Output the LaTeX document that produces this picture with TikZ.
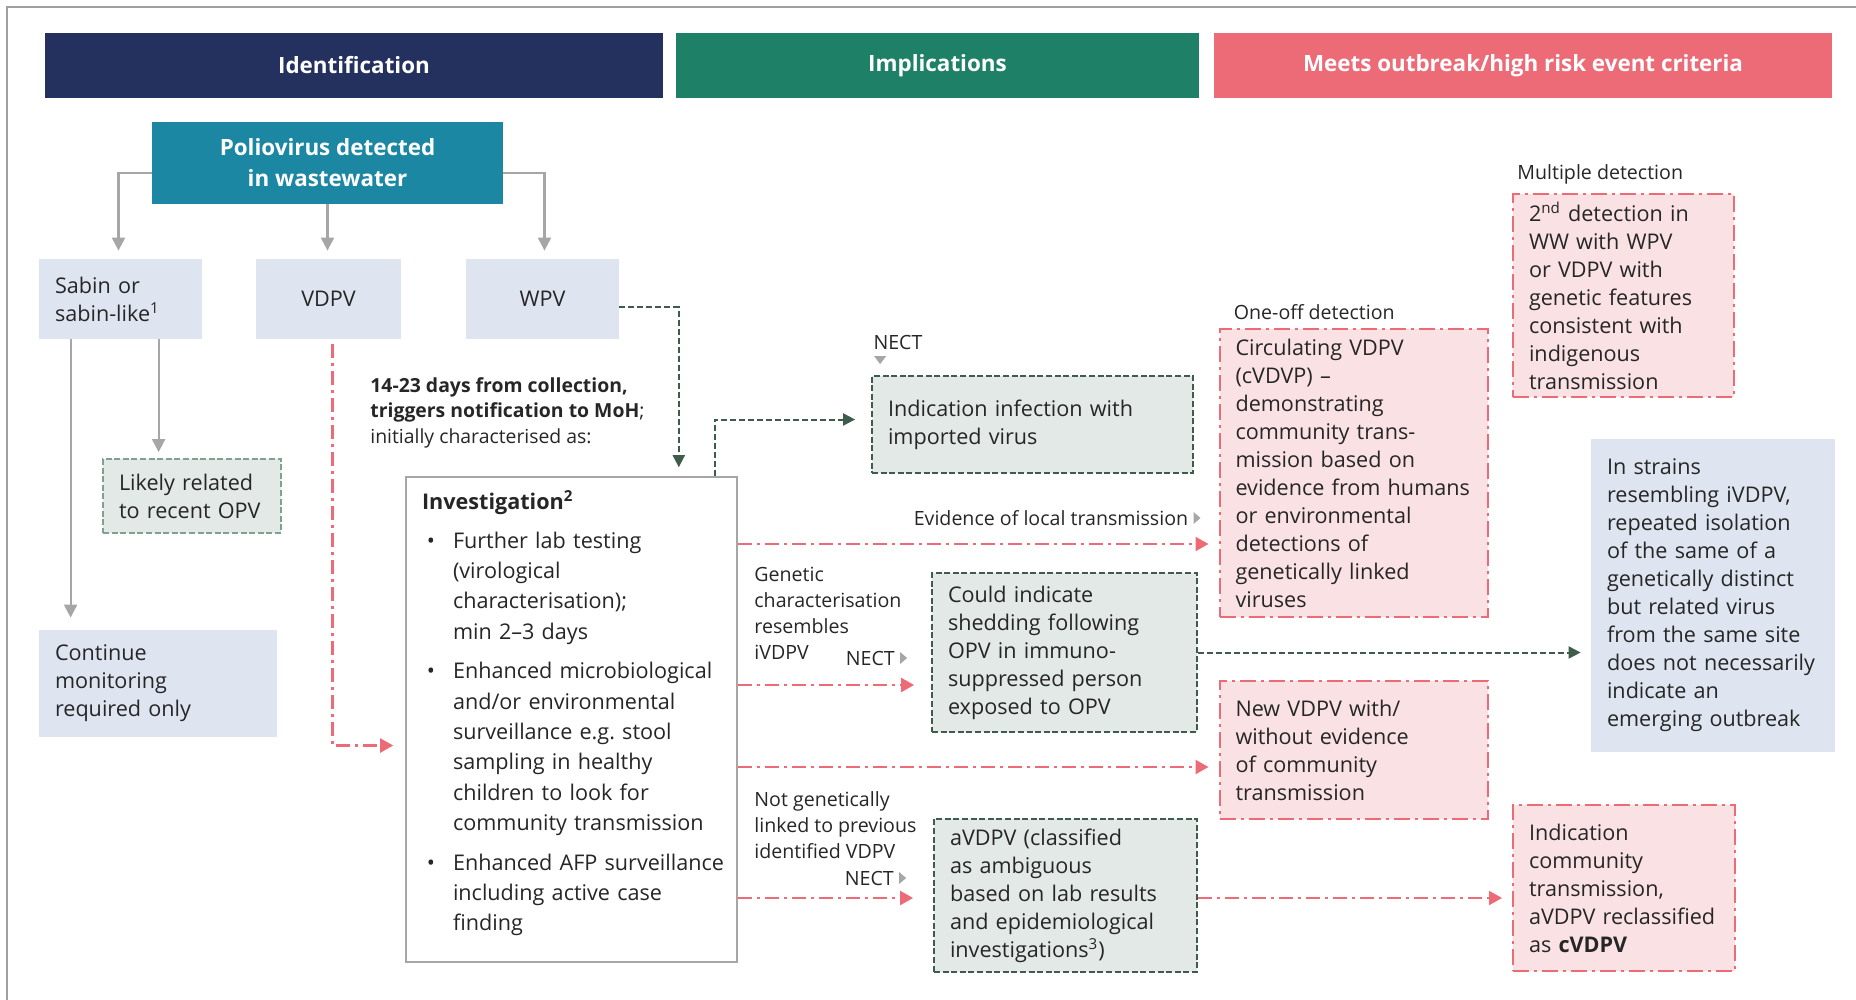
\documentclass[tikz,border=0pt]{standalone}
\usepackage{fontspec}
\setmainfont{Open Sans}
\usepackage{tikz}
\usetikzlibrary{positioning}
\usetikzlibrary{arrows.meta}

\definecolor{navyhead}{HTML}{24305E}
\definecolor{greenhead}{HTML}{1E8067}
\definecolor{salmon}{HTML}{EC6B77}
\definecolor{poliocol}{HTML}{1B87A3}
\definecolor{bluefill}{HTML}{DFE5F0}
\definecolor{sagefill}{HTML}{E3E9E6}
\definecolor{pinkfill}{HTML}{FAE1E4}
\definecolor{darkgreen}{HTML}{3E5B4C}
\definecolor{lightgreen}{HTML}{7FA28D}
\definecolor{arrowgray}{HTML}{A6A6A6}
\definecolor{framegray}{HTML}{A0A0A0}
\definecolor{ink}{HTML}{262626}

\newcommand{\bodyfont}{\fontsize{10.8}{14}\selectfont}
\newcommand{\lblfont}{\fontsize{9.8}{13}\selectfont}
\newcommand{\bul}[1]{{\leftskip=18pt\leavevmode\llap{\textbullet\hspace{9pt}}#1\par}}

\begin{document}
\begin{tikzpicture}[x=0.5pt,y=-0.5pt,
	every node/.style={text=ink},
	header/.style={fill=#1, text=white, font=\fontsize{11.2}{14}\selectfont\bfseries, minimum width=309pt, minimum height=32.5pt, inner sep=0pt},
	plainbox/.style={fill=bluefill, font=\bodyfont, align=left, inner xsep=8pt, inner ysep=3pt},
	sagebox/.style={fill=sagefill, draw=darkgreen, line width=0.9pt, dash pattern=on 3pt off 1.3pt, font=\bodyfont, align=left, inner xsep=8pt, inner ysep=3pt},
	pinkbox/.style={fill=pinkfill, draw=salmon, line width=1pt, dash pattern=on 8pt off 2.5pt on 1.5pt off 2.5pt, font=\bodyfont, align=left, inner xsep=8pt, inner ysep=3pt},
	lbl/.style={font=\lblfont, align=left, inner sep=0pt},
	grayarrow/.style={draw=arrowgray, line width=1.1pt, -{Triangle[width=6.5pt,length=6.5pt]}},
	redarrow/.style={draw=salmon, line width=1.1pt, dash pattern=on 7pt off 2.5pt on 1.5pt off 2.5pt, -{Triangle[width=7pt,length=6.5pt]}},
	greenarrow/.style={draw=darkgreen, line width=1pt, dash pattern=on 3pt off 1.5pt, -{Triangle[width=6pt,length=6pt]}}]
	\useasboundingbox (0,0) rectangle (1856,1000);
	\draw[framegray, line width=0.6pt] (1856,7) -- (7,7) -- (7,1000);

	%% column heads
	\node[header=navyhead] (ident) at (354,65.5) {Identification};
	\node[header=greenhead, minimum width=261.5pt] (impl) at (937.5,65.5) {Implications};
	\node[header=salmon] (meets) at (1523,65.5) {Meets outbreak/high risk event criteria};

	%% identification
	\node[fill=poliocol, text=white, font=\fontsize{11.2}{15.4}\selectfont\bfseries, align=center, minimum width=175.5pt, minimum height=41pt] (polio) at (327.5,163) {Poliovirus detected\\in wastewater};
	\node[plainbox, text width=65.5pt, minimum height=40pt] (sabin) at (120.5,299) {Sabin or\\sabin-like\textsuperscript{1}};
	\node[plainbox, align=center, minimum width=72.5pt, minimum height=40pt] (vdpv) at (328.5,299) {VDPV};
	\node[plainbox, align=center, minimum width=76.5pt, minimum height=40pt] (wpv) at (542.5,299) {WPV};
	\node[sagebox, draw=lightgreen, text width=73pt, minimum height=37pt] (likely) at (192,496) {Likely related\\to recent OPV};
	\node[plainbox, text width=103pt, minimum height=53.5pt] (cont) at (158,683.5) {Continue\\monitoring\\required only};
	\node[lbl, font=\fontsize{9.7}{12.75}\selectfont, anchor=north west] (timing) at (370,377) {\textbf{14-23 days from collection,}\\\textbf{triggers notification to MoH};\\initially characterised as:};
	\node[draw=arrowgray, line width=0.8pt, fill=white, font=\fontsize{10.8}{15.2}\selectfont, align=left, text width=154.5pt, inner xsep=5.5pt, minimum height=242.5pt] (invest) at (571.5,719.5) {\hspace*{2.5pt}\textbf{Investigation\textsuperscript{2}}\par\vspace{4pt}
		\bul{Further lab testing\\(virological\\characterisation);\\min 2--3 days}\vspace{4.5pt}
		\bul{Enhanced microbiological\\and/or environmental\\surveillance e.g.\ stool\\sampling in healthy\\children to look for\\community transmission}\vspace{4.5pt}
		\bul{Enhanced AFP surveillance\\including active case\\finding}\vspace{6pt}};

	%% implications
	\node[sagebox, text width=144.5pt, minimum height=48.5pt] (indic) at (1032.5,424.5) {Indication infection with\\imported virus};
	\node[sagebox, text width=116.5pt, minimum height=79.5pt] (could) at (1064.5,652.5) {Could indicate\\shedding following\\OPV in immuno-\\suppressed person\\exposed to OPV};
	\node[sagebox, text width=115.5pt, minimum height=76.5pt] (avdpv) at (1065.5,895.5) {aVDPV (classified\\as ambiguous\\based on lab results\\and epidemiological\\investigations\textsuperscript{3})};

	%% outbreak criteria
	\node[pinkbox, text width=118pt, minimum height=144pt] (circ) at (1353.5,473) {Circulating VDPV\\(cVDVP) --\\demonstrating\\community trans-\\mission based on\\evidence from humans\\or environmental\\detections of\\genetically linked\\viruses};
	\node[pinkbox, text width=94.5pt, minimum height=101.5pt] (second) at (1623.5,295.5) {2\textsuperscript{nd} detection in\\WW with WPV\\or VDPV with\\genetic features\\consistent with\\indigenous\\transmission};
	\node[plainbox, text width=106pt, minimum height=156.5pt] (strains) at (1713,595.5) {In strains\\resembling iVDPV,\\repeated isolation\\of the same of a\\genetically distinct\\but related virus\\from the same site\\does not necessarily\\indicate an\\emerging outbreak};
	\node[pinkbox, text width=118pt, minimum height=69pt] (newv) at (1353.5,750) {New VDPV with/\\without evidence\\of community\\transmission};
	\node[pinkbox, text width=95pt, minimum height=83pt] (indcom) at (1624,888) {Indication\\community\\transmission,\\aVDPV reclassified\\as \textbf{cVDPV}};
	\node[lbl, above right=4pt and 7.5pt of circ.north west] (oneoff) {One-off detection};
	\node[lbl, above right=4pt and 2.5pt of second.north west] (multi) {Multiple detection};

	% arrow ends
	\coordinate (e1) at ([yshift=-35.5pt,xshift=-5pt]circ.west);
	\coordinate (e2) at ([yshift=-16.25pt,xshift=-8.5pt]could.west);
	\coordinate (e3) at ([yshift=-8.5pt,xshift=-5pt]newv.west);
	\coordinate (e4) at ([yshift=-1.25pt,xshift=-10pt]avdpv.west);
	\coordinate (e5) at ([yshift=-5pt,xshift=-5pt]indcom.west);
	\coordinate (s1) at ([xshift=16pt]sabin.south west);
	\coordinate (s2) at ([xshift=60pt]sabin.south west);

	%% labels on arrows
	\node[lbl, above right=12.5pt and 1pt of indic.north west] (nect1) {NECT};
	\fill[arrowgray] ([xshift=0.5pt,yshift=-3pt]nect1.south west) -- ++(6pt,0) -- ++(-3pt,-4pt) -- cycle;
	\node[lbl, anchor=east] (evid) at ([xshift=-10pt,yshift=13pt]e1) {Evidence of local transmission};
	\fill[arrowgray] ([xshift=2.5pt]evid.east) ++(0,3pt) -- ++(3.5pt,-3pt) -- ++(-3.5pt,-3pt) -- cycle;
	\node[lbl, anchor=north west] (genetic) at (754,567) {Genetic\\characterisation\\resembles\\iVDPV};
	\node[lbl, anchor=east] (nect2) at ([xshift=-9.5pt,yshift=13.5pt]e2) {NECT};
	\fill[arrowgray] ([xshift=2.5pt]nect2.east) ++(0,3pt) -- ++(3.5pt,-3pt) -- ++(-3.5pt,-3pt) -- cycle;
	\node[lbl, anchor=north west] (notlinked) at (754,791) {Not genetically\\linked to previous\\identified VDPV};
	\node[lbl, anchor=east] (nect3) at ([xshift=-9.5pt,yshift=10pt]e4) {NECT};
	\fill[arrowgray] ([xshift=2.5pt]nect3.east) ++(0,3pt) -- ++(3.5pt,-3pt) -- ++(-3.5pt,-3pt) -- cycle;

	% connectors
	\draw[grayarrow, shorten >=4pt] ([yshift=-5pt]polio.west) -| ([xshift=-1pt]sabin.north);
	\draw[grayarrow, shorten >=4pt] (polio.south) -- (polio.south |- vdpv.north);
	\draw[grayarrow, shorten >=4pt] ([yshift=-5pt]polio.east) -| ([xshift=1pt]wpv.north);
	\draw[grayarrow, shorten >=6pt] (s1) -- (s1 |- cont.north);
	\draw[grayarrow, shorten >=3pt] (s2) -- (s2 |- likely.north);
	\draw[redarrow, shorten <=2.5pt, shorten >=6pt] ([xshift=2pt]vdpv.south) |- ([yshift=-13pt]invest.west);
	\draw[greenarrow, shorten >=4.5pt] ([yshift=-4pt]wpv.east) -| ([xshift=-29.5pt]invest.north east);
	\draw[greenarrow, shorten >=8pt] ([xshift=-11.5pt]invest.north east) |- ([yshift=2.5pt]indic.west);
	\draw[redarrow] (invest.east |- e1) -- (e1);
	\draw[redarrow] (invest.east |- e2) -- (e2);
	\draw[redarrow] (invest.east |- e3) -- (e3);
	\draw[redarrow] (invest.east |- e4) -- (e4);
	\draw[redarrow] (avdpv.east |- e5) -- (e5);
	\draw[greenarrow, shorten >=5pt] (could.east) -- (could.east -| strains.west);
\end{tikzpicture}
\end{document}
